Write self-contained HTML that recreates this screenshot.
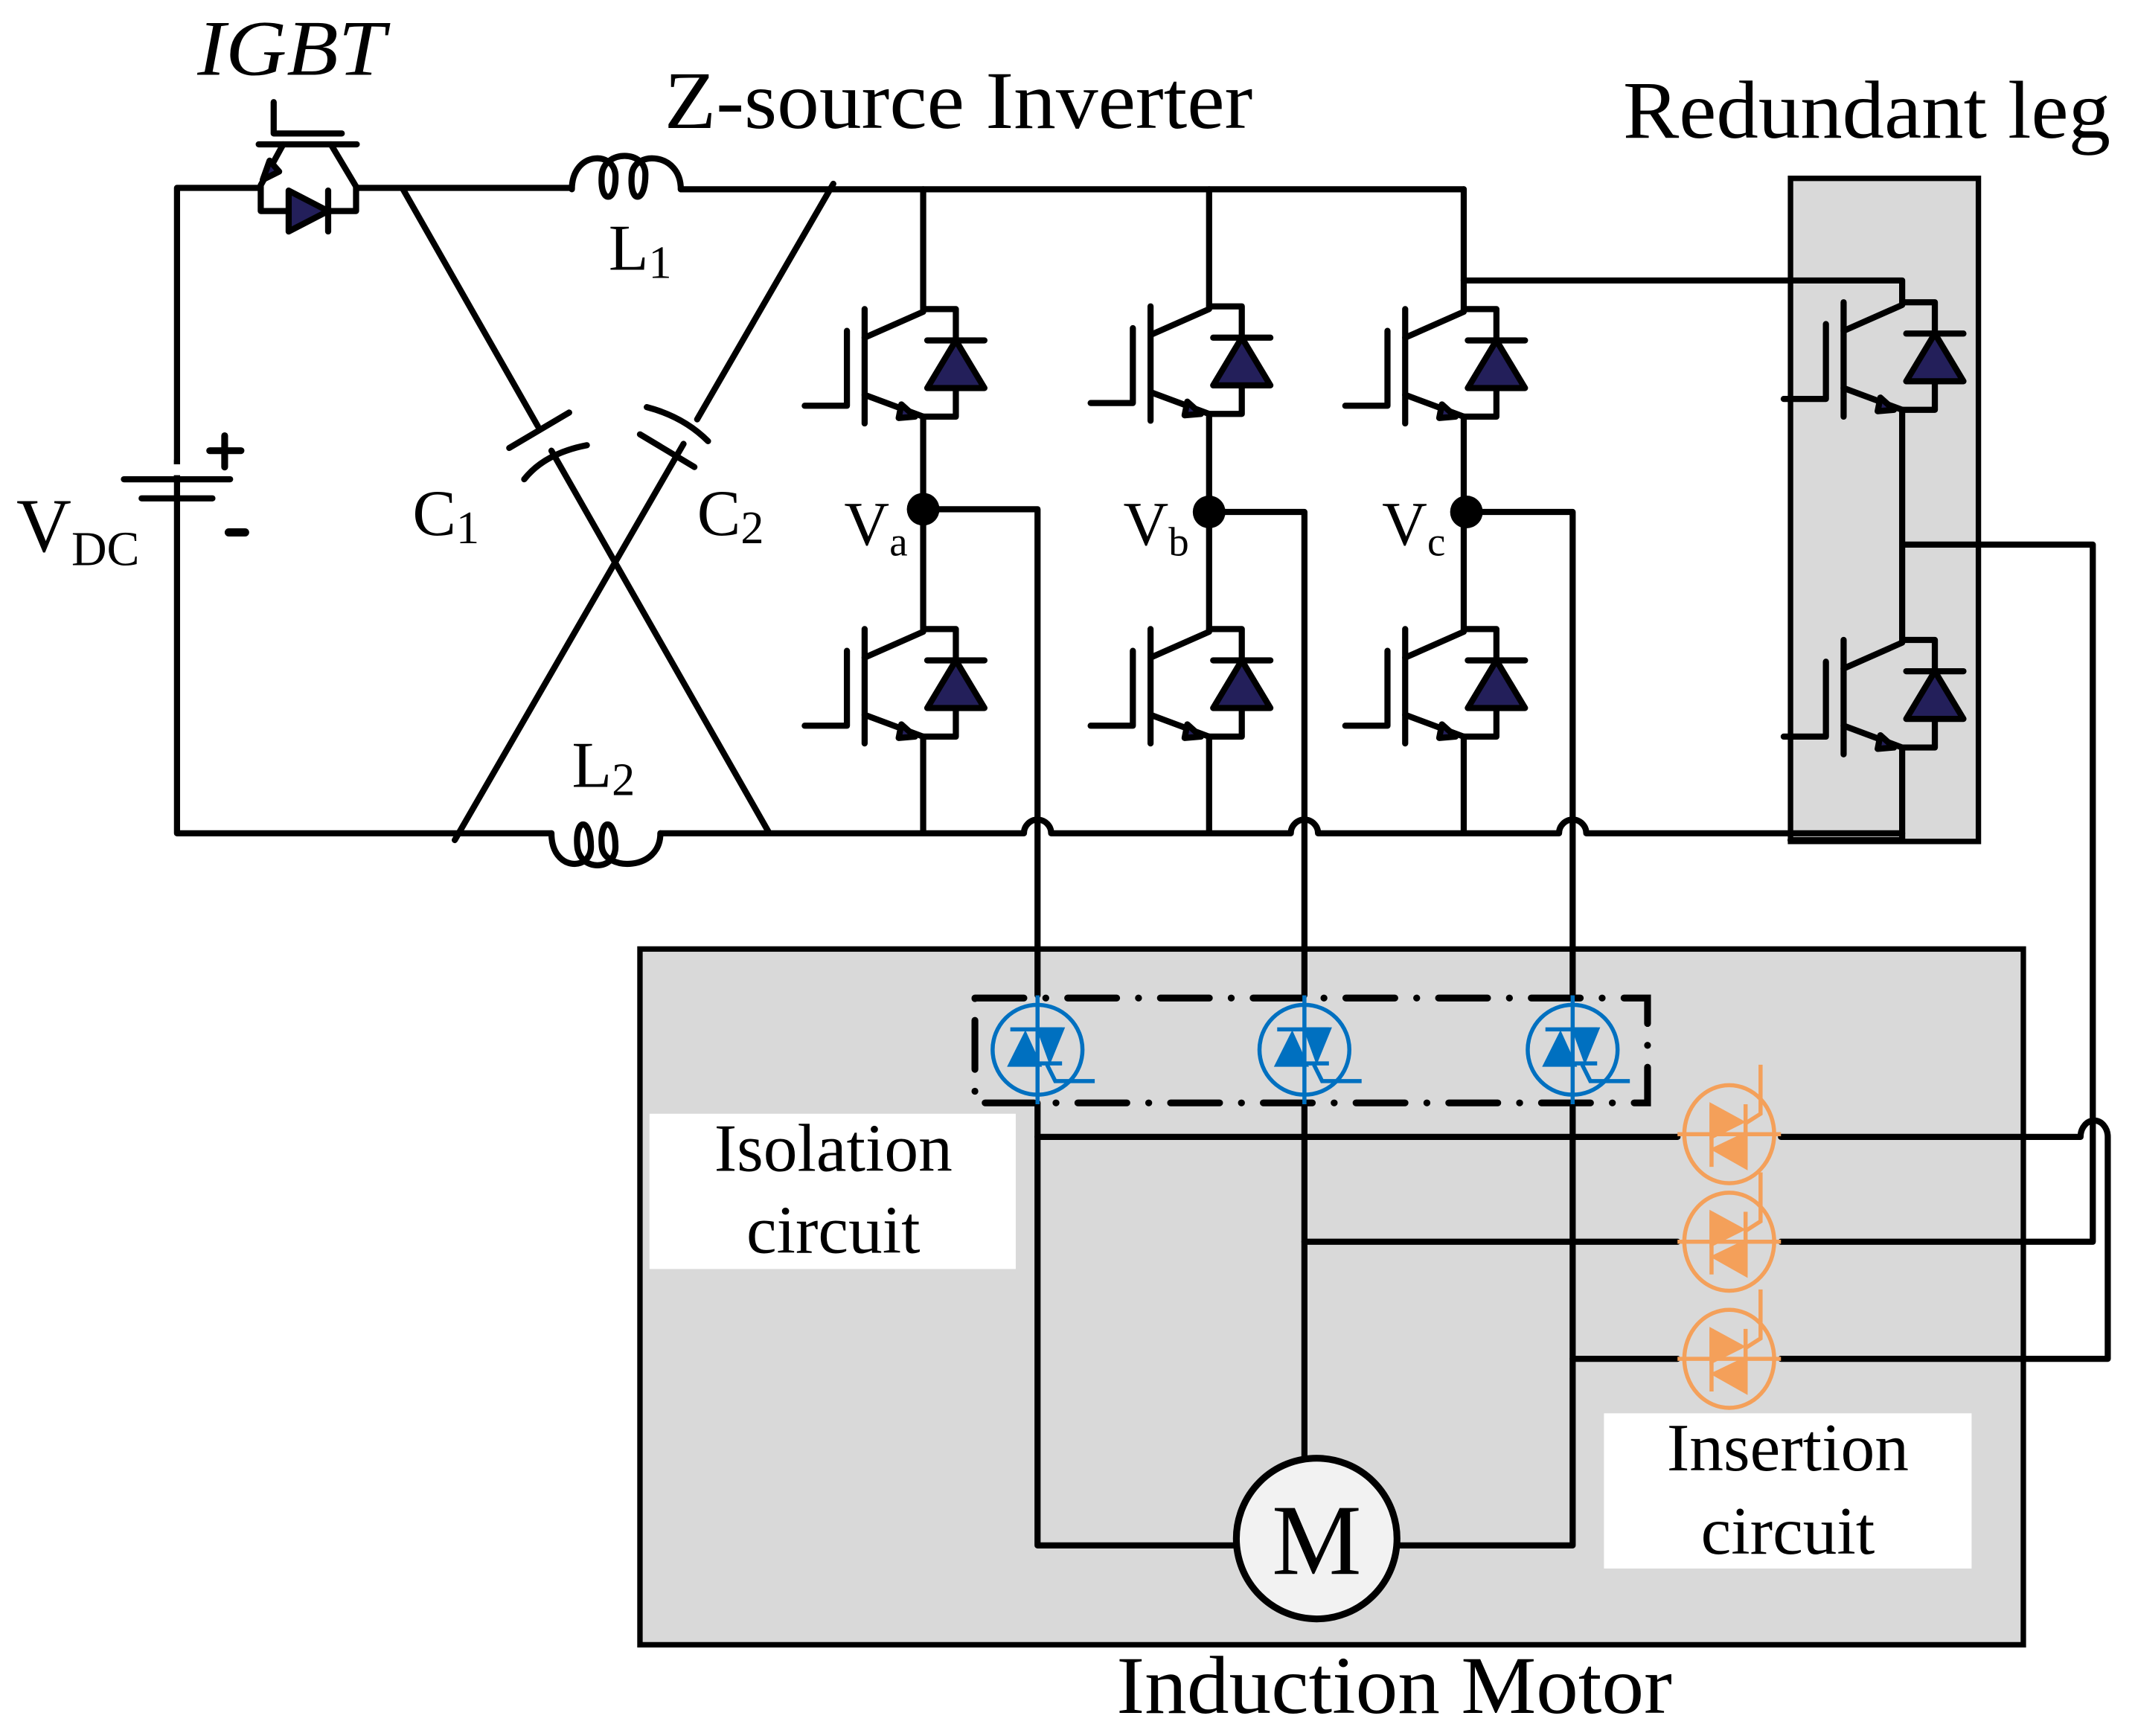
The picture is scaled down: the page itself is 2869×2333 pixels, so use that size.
<!DOCTYPE html>
<html><head><meta charset="utf-8"><style>
html,body{margin:0;padding:0;background:#fff}
svg{display:block}
text{font-family:"Liberation Serif",serif;fill:#000}
</style></head><body>
<svg width="2869" height="2333" viewBox="0 0 1568 1275" preserveAspectRatio="none" xmlns="http://www.w3.org/2000/svg">
<defs>
<g id="igbt" fill="none" stroke="#000" stroke-width="4.5" stroke-linecap="round" stroke-linejoin="round">
  <path d="M0,0 H24 V79 H0"/>
  <path d="M3,23 H45"/>
  <path d="M24,23 L3,58 H45 Z" fill="#231f5a"/>
  <path d="M-43,0 V84"/>
  <path d="M-43,21 L0,2"/>
  <path d="M-43,63 L0,79"/>
  <path d="M-6,79 L-16,70 L-18,80 Z" fill="#231f5a"/>
  <path d="M-56,16 V71 H-87"/>
</g>
<g id="bthy" fill="none" stroke="#0070c0" stroke-width="3">
  <circle cx="0" cy="0" r="33"/>
  <path d="M0,-40 V40"/>
  <path d="M-20,-15 H18"/>
  <path d="M1,-15 L18,-15 L9,7 Z" fill="#0070c0"/>
  <path d="M-20,11 H1 L-9,-11 Z" fill="#0070c0"/>
  <path d="M0,10 H18"/>
  <path d="M7,11 L13,23 H42"/>
</g>
<g id="othy" fill="none" stroke="#f4a05a" stroke-width="3">
  <ellipse cx="0" cy="0" rx="33" ry="36"/>
  <path d="M-38,0 H38"/>
  <path d="M-13,-22 V24"/>
  <path d="M12,-22 V24"/>
  <path d="M-13,-21 L-13,2 L9,-9 Z" fill="#f4a05a"/>
  <path d="M12,0 L12,24 L-11,11 Z" fill="#f4a05a"/>
  <path d="M12,-8 L23,-15 V-51"/>
</g>
</defs>

<rect x="470" y="697" width="1016" height="511" fill="#d9d9d9" stroke="#000" stroke-width="4"/>
<rect x="1315" y="131" width="138" height="487" fill="#d9d9d9" stroke="#000" stroke-width="4"/>
<rect x="477" y="818" width="269" height="114" fill="#fff"/>
<rect x="1178" y="1038" width="270" height="114" fill="#fff"/>

<g fill="none" stroke="#000" stroke-width="4.5" stroke-linecap="round" stroke-linejoin="round">
  <path d="M191,138 H130 V612 H405"/>
  <path d="M262,138 H420"/>
  <path d="M500,139 H1075"/>
  <path d="M420,139 C420,112 450,110 452,128 C453,150 440,150 442,128 C444,110 474,110 474,128 C474,150 462,150 464,128 C466,110 500,112 500,139"/>
  <path d="M405,612 C405,640 434,640 434,622 C434,600 422,600 424,622 C426,640 452,640 452,622 C452,600 440,600 442,622 C444,640 485,640 485,612"/>
  <path d="M485,612 H752 A10,10 0 0 1 772,612 H948 A10,10 0 0 1 968,612 H1145 A10,10 0 0 1 1165,612 H1397"/>
  <path d="M1315,617 H1397"/>
  <path d="M201,75 V98 H251"/>
  <path d="M190,106 H262"/>
  <path d="M208,106 L191.5,136"/>
  <path d="M243,106 L261.5,137"/>
  <path d="M191.5,137 V155 H261.5 V137"/>
  <path d="M212,140 L241,155 L212,170 Z" fill="#231f5a"/>
  <path d="M241,140 V170"/>
  <path d="M193,132 L198,118 L205,126 Z" fill="#231f5a"/>
  <path d="M296,139 L395,313"/>
  <path d="M405,331 L565,612"/>
  <path d="M612,135 L512,308"/>
  <path d="M502,326 L334,617"/>
  <path d="M374,329 L418,303"/>
  <path d="M385,352 Q400,333 431,327"/>
  <path d="M470,319 L510,343"/>
  <path d="M481,315 Q508,322 526,340" transform="translate(-6,-16)"/>
  <path d="M130,338 V352"/>
  <path d="M91,352 H169"/>
  <path d="M104,366 H156"/>
  <path d="M165,320 V343 M154,331 H177" stroke-width="5"/>
  <path d="M168,391 H180" stroke-width="6"/>
</g>
<rect x="126" y="341" width="10" height="8" fill="#fff"/>

<g fill="none" stroke="#000" stroke-width="4.5" stroke-linecap="round" stroke-linejoin="round">
  <path d="M678,139 V227 M678,306 V462 M678,541 V612"/>
  <path d="M888,139 V225 M888,304 V462 M888,541 V612"/>
  <path d="M1075,139 V227 M1075,306 V462 M1075,541 V612"/>
  <path d="M1075,206 H1397 V222 M1397,301 V470 M1397,549 V617"/>
  <path d="M678,374 H762 V731 M762,810 V1135 H907"/>
  <path d="M888,376 H958 V731 M958,810 V1070"/>
  <path d="M1077,376 H1155 V731 M1155,810 V1135 H1027"/>
  <path d="M762,835 H1232 M1308,835 H1528 A10,12 0 0 1 1548,835 V998 H1308 M1232,998 H1155"/>
  <path d="M958,912 H1232 M1308,912 H1537 V400 H1397"/>
</g>
<use href="#igbt" transform="translate(678,227)"/>
<use href="#igbt" transform="translate(678,462)"/>
<use href="#igbt" transform="translate(888,225)"/>
<use href="#igbt" transform="translate(888,462)"/>
<use href="#igbt" transform="translate(1075,227)"/>
<use href="#igbt" transform="translate(1075,462)"/>
<use href="#igbt" transform="translate(1397,222)"/>
<use href="#igbt" transform="translate(1397,470)"/>
<circle cx="678" cy="374" r="12" fill="#000"/>
<circle cx="888" cy="376" r="12" fill="#000"/>
<circle cx="1077" cy="376" r="12" fill="#000"/>

<rect x="716" y="733" width="494" height="77" fill="none" stroke="#000" stroke-width="5" stroke-linecap="round" stroke-dasharray="36 16 0.1 16"/>
<use href="#bthy" transform="translate(762,771)"/>
<use href="#bthy" transform="translate(958,771)"/>
<use href="#bthy" transform="translate(1155,771)"/>
<use href="#othy" transform="translate(1270,833)"/>
<use href="#othy" transform="translate(1270,912)"/>
<use href="#othy" transform="translate(1270,998)"/>

<circle cx="967" cy="1130" r="59" fill="#f2f2f2" stroke="#000" stroke-width="5"/>
<text x="967" y="1156" font-size="74" text-anchor="middle">M</text>

<text x="145" y="55" font-size="58" font-style="italic" textLength="138" lengthAdjust="spacingAndGlyphs">IGBT</text>
<text x="488" y="94" font-size="60" textLength="432" lengthAdjust="spacingAndGlyphs">Z-source Inverter</text>
<text x="1192" y="101" font-size="60" textLength="358" lengthAdjust="spacingAndGlyphs">Redundant leg</text>
<text x="820" y="1258" font-size="60" textLength="408" lengthAdjust="spacingAndGlyphs">Induction Motor</text>
<text x="612" y="860" font-size="50" text-anchor="middle">Isolation</text>
<text x="612" y="920" font-size="50" text-anchor="middle">circuit</text>
<text x="1313" y="1080" font-size="50" text-anchor="middle">Insertion</text>
<text x="1313" y="1141" font-size="50" text-anchor="middle">circuit</text>
<text x="12" y="405" font-size="56">V<tspan font-size="36" dy="10">DC</tspan></text>
<text x="447" y="198" font-size="48">L<tspan font-size="34" dy="6">1</tspan></text>
<text x="420" y="578" font-size="48">L<tspan font-size="34" dy="6">2</tspan></text>
<text x="303" y="393" font-size="48">C<tspan font-size="34" dy="6">1</tspan></text>
<text x="512" y="393" font-size="48">C<tspan font-size="34" dy="6">2</tspan></text>
<text x="620" y="400" font-size="46">V<tspan font-size="30" dy="8">a</tspan></text>
<text x="825" y="400" font-size="46">V<tspan font-size="30" dy="8">b</tspan></text>
<text x="1015" y="400" font-size="46">V<tspan font-size="30" dy="8">c</tspan></text>
</svg>
</body></html>
